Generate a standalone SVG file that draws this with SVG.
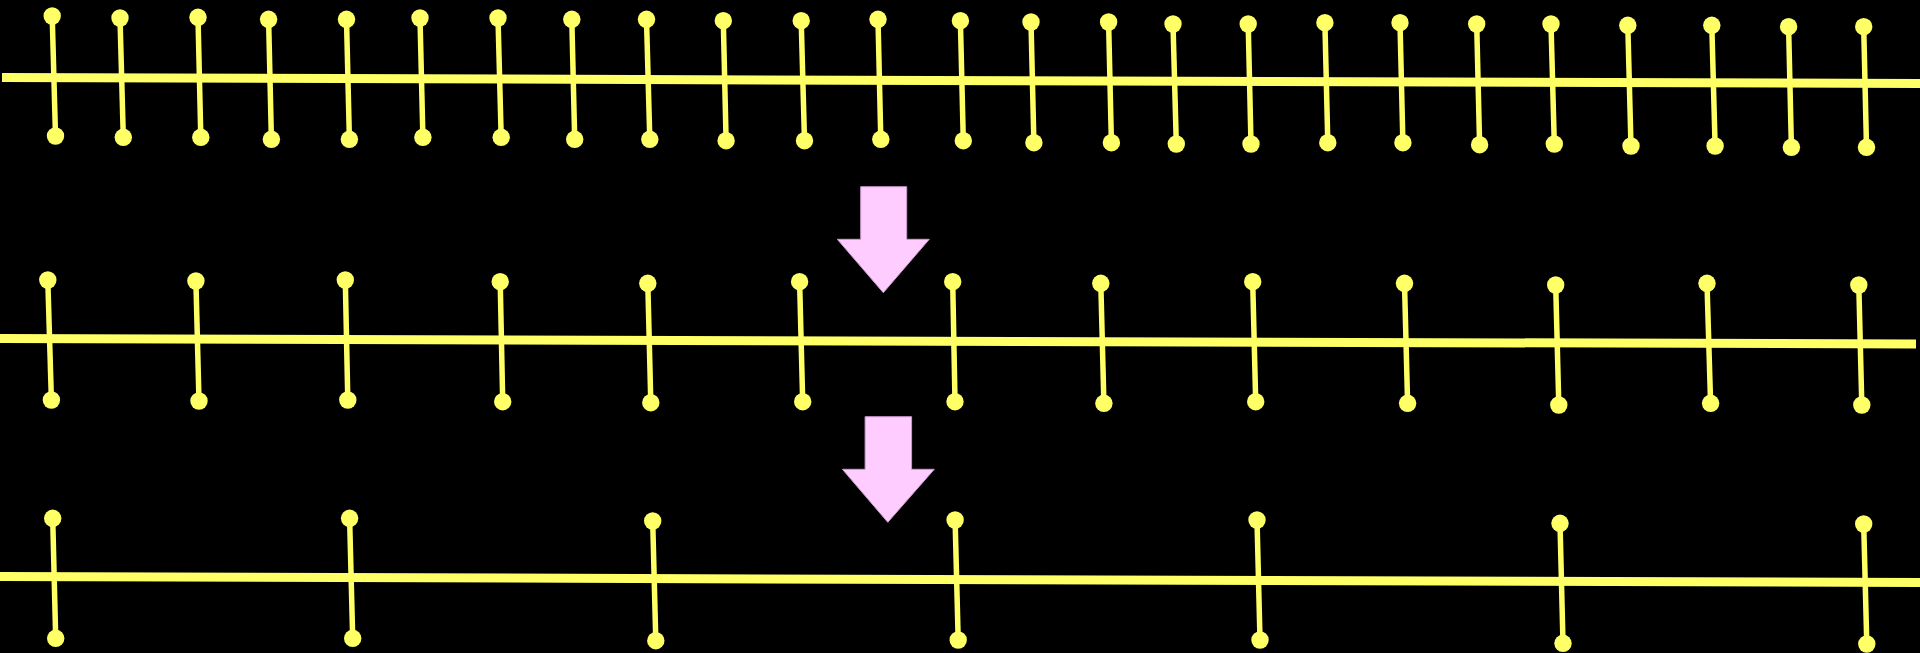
<svg xmlns="http://www.w3.org/2000/svg" width="1920" height="653" viewBox="0 0 1920 653">
<defs>
<style>
.bg{fill:#000000}
.axis{stroke:#FFFF66;stroke-width:9;fill:none}
.tick{stroke:#FFFF66;stroke-width:5.5;fill:none}
.dot{fill:#FFFF66}
.arrow{fill:#FFCCFF;stroke:#CC99CC;stroke-width:1}
</style>
</defs>
<rect class="bg" x="0" y="0" width="1920" height="653"/>
<g id="connectors">
<line class="axis" x1="2" y1="77.5" x2="1920" y2="83.5"/>
<line class="axis" x1="0" y1="338.5" x2="1916" y2="344"/>
<line class="axis" x1="0" y1="576.5" x2="1920" y2="582.5"/>
</g>
<g id="row1">
<g id="r1t1"><line class="tick" x1="52.2" y1="16" x2="55.5" y2="136"/><circle class="dot" cx="52.2" cy="16" r="8.7"/><circle class="dot" cx="55.5" cy="136" r="8.7"/></g>
<g id="r1t2"><line class="tick" x1="120" y1="18" x2="123.3" y2="137.3"/><circle class="dot" cx="120" cy="18" r="8.7"/><circle class="dot" cx="123.3" cy="137.3" r="8.7"/></g>
<g id="r1t3"><line class="tick" x1="198" y1="17.3" x2="200.8" y2="137.3"/><circle class="dot" cx="198" cy="17.3" r="8.7"/><circle class="dot" cx="200.8" cy="137.3" r="8.7"/></g>
<g id="r1t4"><line class="tick" x1="268.6" y1="19.3" x2="271.4" y2="139.3"/><circle class="dot" cx="268.6" cy="19.3" r="8.7"/><circle class="dot" cx="271.4" cy="139.3" r="8.7"/></g>
<g id="r1t5"><line class="tick" x1="346.5" y1="19.3" x2="349.4" y2="139.3"/><circle class="dot" cx="346.5" cy="19.3" r="8.7"/><circle class="dot" cx="349.4" cy="139.3" r="8.7"/></g>
<g id="r1t6"><line class="tick" x1="420" y1="18" x2="422.9" y2="137.3"/><circle class="dot" cx="420" cy="18" r="8.7"/><circle class="dot" cx="422.9" cy="137.3" r="8.7"/></g>
<g id="r1t7"><line class="tick" x1="498" y1="18" x2="501.2" y2="137.3"/><circle class="dot" cx="498" cy="18" r="8.7"/><circle class="dot" cx="501.2" cy="137.3" r="8.7"/></g>
<g id="r1t8"><line class="tick" x1="571.8" y1="19.3" x2="574.7" y2="139.3"/><circle class="dot" cx="571.8" cy="19.3" r="8.7"/><circle class="dot" cx="574.7" cy="139.3" r="8.7"/></g>
<g id="r1t9"><line class="tick" x1="646.5" y1="19.3" x2="649.8" y2="139.3"/><circle class="dot" cx="646.5" cy="19.3" r="8.7"/><circle class="dot" cx="649.8" cy="139.3" r="8.7"/></g>
<g id="r1t10"><line class="tick" x1="723.3" y1="20.7" x2="726.1" y2="140.7"/><circle class="dot" cx="723.3" cy="20.7" r="8.7"/><circle class="dot" cx="726.1" cy="140.7" r="8.7"/></g>
<g id="r1t11"><line class="tick" x1="801.2" y1="20.7" x2="804.5" y2="140.7"/><circle class="dot" cx="801.2" cy="20.7" r="8.7"/><circle class="dot" cx="804.5" cy="140.7" r="8.7"/></g>
<g id="r1t12"><line class="tick" x1="878" y1="19.3" x2="880.8" y2="139.3"/><circle class="dot" cx="878" cy="19.3" r="8.7"/><circle class="dot" cx="880.8" cy="139.3" r="8.7"/></g>
<g id="r1t13"><line class="tick" x1="960.4" y1="20.7" x2="963.3" y2="140.7"/><circle class="dot" cx="960.4" cy="20.7" r="8.7"/><circle class="dot" cx="963.3" cy="140.7" r="8.7"/></g>
<g id="r1t14"><line class="tick" x1="1031" y1="22" x2="1033.9" y2="142.7"/><circle class="dot" cx="1031" cy="22" r="8.7"/><circle class="dot" cx="1033.9" cy="142.7" r="8.7"/></g>
<g id="r1t15"><line class="tick" x1="1108.6" y1="22" x2="1111.4" y2="142.7"/><circle class="dot" cx="1108.6" cy="22" r="8.7"/><circle class="dot" cx="1111.4" cy="142.7" r="8.7"/></g>
<g id="r1t16"><line class="tick" x1="1173" y1="24" x2="1176.3" y2="144"/><circle class="dot" cx="1173" cy="24" r="8.7"/><circle class="dot" cx="1176.3" cy="144" r="8.7"/></g>
<g id="r1t17"><line class="tick" x1="1248.2" y1="24" x2="1251" y2="144"/><circle class="dot" cx="1248.2" cy="24" r="8.7"/><circle class="dot" cx="1251" cy="144" r="8.7"/></g>
<g id="r1t18"><line class="tick" x1="1324.9" y1="22.7" x2="1327.8" y2="142.7"/><circle class="dot" cx="1324.9" cy="22.7" r="8.7"/><circle class="dot" cx="1327.8" cy="142.7" r="8.7"/></g>
<g id="r1t19"><line class="tick" x1="1400" y1="22.7" x2="1402.9" y2="142.7"/><circle class="dot" cx="1400" cy="22.7" r="8.7"/><circle class="dot" cx="1402.9" cy="142.7" r="8.7"/></g>
<g id="r1t20"><line class="tick" x1="1476.7" y1="24" x2="1479.6" y2="144.7"/><circle class="dot" cx="1476.7" cy="24" r="8.7"/><circle class="dot" cx="1479.6" cy="144.7" r="8.7"/></g>
<g id="r1t21"><line class="tick" x1="1551" y1="24" x2="1554.3" y2="144"/><circle class="dot" cx="1551" cy="24" r="8.7"/><circle class="dot" cx="1554.3" cy="144" r="8.7"/></g>
<g id="r1t22"><line class="tick" x1="1627.8" y1="25.3" x2="1631" y2="146"/><circle class="dot" cx="1627.8" cy="25.3" r="8.7"/><circle class="dot" cx="1631" cy="146" r="8.7"/></g>
<g id="r1t23"><line class="tick" x1="1711.8" y1="25.3" x2="1715.1" y2="146"/><circle class="dot" cx="1711.8" cy="25.3" r="8.7"/><circle class="dot" cx="1715.1" cy="146" r="8.7"/></g>
<g id="r1t24"><line class="tick" x1="1788.6" y1="26.7" x2="1791.4" y2="147.3"/><circle class="dot" cx="1788.6" cy="26.7" r="8.7"/><circle class="dot" cx="1791.4" cy="147.3" r="8.7"/></g>
<g id="r1t25"><line class="tick" x1="1863.7" y1="26.7" x2="1866.5" y2="147.3"/><circle class="dot" cx="1863.7" cy="26.7" r="8.7"/><circle class="dot" cx="1866.5" cy="147.3" r="8.7"/></g>
</g>
<g id="arrow1"><polygon class="arrow" points="860.7,186.7 906.7,186.7 906.7,239.3 929.3,239.3 883.3,292.7 837.3,239.3 860.7,239.3"/></g>
<g id="row2">
<g id="r2t1"><line class="tick" x1="47.8" y1="280" x2="51.4" y2="400"/><circle class="dot" cx="47.8" cy="280" r="8.7"/><circle class="dot" cx="51.4" cy="400" r="8.7"/></g>
<g id="r2t2"><line class="tick" x1="195.9" y1="281" x2="199" y2="401"/><circle class="dot" cx="195.9" cy="281" r="8.7"/><circle class="dot" cx="199" cy="401" r="8.7"/></g>
<g id="r2t3"><line class="tick" x1="345.3" y1="280" x2="347.8" y2="400"/><circle class="dot" cx="345.3" cy="280" r="8.7"/><circle class="dot" cx="347.8" cy="400" r="8.7"/></g>
<g id="r2t4"><line class="tick" x1="500.2" y1="281.7" x2="502.7" y2="401.7"/><circle class="dot" cx="500.2" cy="281.7" r="8.7"/><circle class="dot" cx="502.7" cy="401.7" r="8.7"/></g>
<g id="r2t5"><line class="tick" x1="647.8" y1="283.3" x2="650.8" y2="402.7"/><circle class="dot" cx="647.8" cy="283.3" r="8.7"/><circle class="dot" cx="650.8" cy="402.7" r="8.7"/></g>
<g id="r2t6"><line class="tick" x1="799.6" y1="281.7" x2="802.7" y2="401.7"/><circle class="dot" cx="799.6" cy="281.7" r="8.7"/><circle class="dot" cx="802.7" cy="401.7" r="8.7"/></g>
<g id="r2t7"><line class="tick" x1="952.7" y1="281.7" x2="955" y2="401.7"/><circle class="dot" cx="952.7" cy="281.7" r="8.7"/><circle class="dot" cx="955" cy="401.7" r="8.7"/></g>
<g id="r2t8"><line class="tick" x1="1100.8" y1="283.3" x2="1103.9" y2="403.3"/><circle class="dot" cx="1100.8" cy="283.3" r="8.7"/><circle class="dot" cx="1103.9" cy="403.3" r="8.7"/></g>
<g id="r2t9"><line class="tick" x1="1252.7" y1="281.7" x2="1255.7" y2="401.7"/><circle class="dot" cx="1252.7" cy="281.7" r="8.7"/><circle class="dot" cx="1255.7" cy="401.7" r="8.7"/></g>
<g id="r2t10"><line class="tick" x1="1404.5" y1="283.3" x2="1407.6" y2="403.3"/><circle class="dot" cx="1404.5" cy="283.3" r="8.7"/><circle class="dot" cx="1407.6" cy="403.3" r="8.7"/></g>
<g id="r2t11"><line class="tick" x1="1555.7" y1="285" x2="1558.8" y2="405"/><circle class="dot" cx="1555.7" cy="285" r="8.7"/><circle class="dot" cx="1558.8" cy="405" r="8.7"/></g>
<g id="r2t12"><line class="tick" x1="1707" y1="283.3" x2="1710.6" y2="403.3"/><circle class="dot" cx="1707" cy="283.3" r="8.7"/><circle class="dot" cx="1710.6" cy="403.3" r="8.7"/></g>
<g id="r2t13"><line class="tick" x1="1858.8" y1="285" x2="1861.8" y2="405"/><circle class="dot" cx="1858.8" cy="285" r="8.7"/><circle class="dot" cx="1861.8" cy="405" r="8.7"/></g>
</g>
<g id="arrow2"><polygon class="arrow" points="865.1,416.7 911.6,416.7 911.6,469.3 934.3,469.3 887.8,522.3 842.4,469.3 865.1,469.3"/></g>
<g id="row3">
<g id="r3t1"><line class="tick" x1="52.7" y1="518.3" x2="55.7" y2="638.3"/><circle class="dot" cx="52.7" cy="518.3" r="8.7"/><circle class="dot" cx="55.7" cy="638.3" r="8.7"/></g>
<g id="r3t2"><line class="tick" x1="349.6" y1="518.3" x2="352.7" y2="638.3"/><circle class="dot" cx="349.6" cy="518.3" r="8.7"/><circle class="dot" cx="352.7" cy="638.3" r="8.7"/></g>
<g id="r3t3"><line class="tick" x1="652.7" y1="521" x2="655.8" y2="640.7"/><circle class="dot" cx="652.7" cy="521" r="8.7"/><circle class="dot" cx="655.8" cy="640.7" r="8.7"/></g>
<g id="r3t4"><line class="tick" x1="955.1" y1="520" x2="958.2" y2="640"/><circle class="dot" cx="955.1" cy="520" r="8.7"/><circle class="dot" cx="958.2" cy="640" r="8.7"/></g>
<g id="r3t5"><line class="tick" x1="1257" y1="520" x2="1260" y2="640"/><circle class="dot" cx="1257" cy="520" r="8.7"/><circle class="dot" cx="1260" cy="640" r="8.7"/></g>
<g id="r3t6"><line class="tick" x1="1560" y1="523.3" x2="1563" y2="643.3"/><circle class="dot" cx="1560" cy="523.3" r="8.7"/><circle class="dot" cx="1563" cy="643.3" r="8.7"/></g>
<g id="r3t7"><line class="tick" x1="1863.7" y1="524" x2="1866.8" y2="644"/><circle class="dot" cx="1863.7" cy="524" r="8.7"/><circle class="dot" cx="1866.8" cy="644" r="8.7"/></g>
</g>
</svg>
